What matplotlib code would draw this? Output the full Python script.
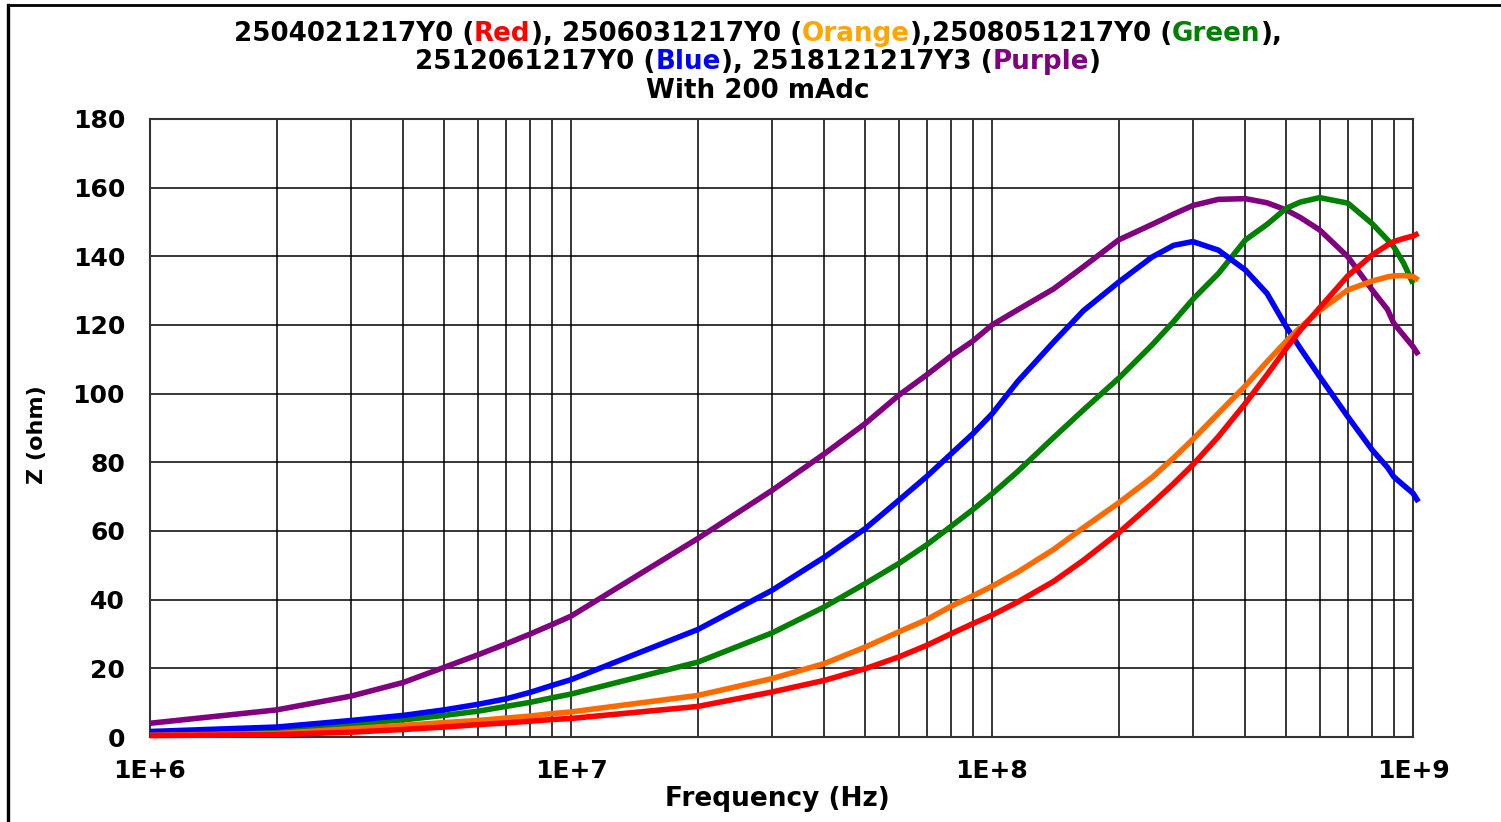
import numpy as np
import matplotlib
matplotlib.use('Agg')
import matplotlib.pyplot as plt
from matplotlib.lines import Line2D
from matplotlib.ticker import LogLocator, NullFormatter

# Impedance vs frequency, 200 mAdc bias
freq = [1e6, 2e6, 3e6, 4e6, 5e6, 6e6, 7e6, 8e6, 9e6,
        1e7, 2e7, 3e7, 4e7, 5e7, 6e7, 7e7, 8e7, 9e7,
        1e8, 1.15e8, 1.4e8, 1.65e8, 2e8, 2.4e8, 2.7e8, 3e8, 3.45e8, 4e8, 4.5e8,
        5e8, 5.4e8, 6e8, 7e8, 8e8, 8.7e8, 9e8, 9.5e8, 1e9, 1.03e9]

z_purple = [4.0, 7.9, 11.9, 15.9, 20.3, 23.9, 27.1, 30.0, 32.7,
            35.2, 57.8, 71.8, 82.5, 91.3, 99.5, 105.5, 111.0, 115.3,
            120.0, 124.4, 130.5, 137.0, 144.8, 149.3, 152.3, 154.8, 156.6, 156.8, 155.6,
            153.5, 151.3, 147.7, 139.9, 130.2, 124.5, 120.5, 117.0, 113.7, 111.3]

z_blue = [1.6, 2.9, 4.8, 6.3, 7.9, 9.5, 11.1, 13.0, 15.0,
          16.7, 31.3, 42.7, 52.4, 60.7, 68.9, 75.9, 82.5, 88.3,
          94.1, 103.5, 115.0, 124.2, 132.5, 139.8, 143.2, 144.3, 141.8, 136.0, 129.2,
          119.5, 113.2, 105.0, 93.3, 83.6, 78.5, 75.8, 73.3, 71.0, 68.5]

z_green = [1.2, 2.2, 3.7, 5.0, 6.3, 7.5, 8.9, 10.1, 11.4,
           12.5, 21.8, 30.3, 37.9, 44.7, 50.5, 56.0, 61.4, 66.2,
           70.8, 77.3, 87.2, 95.3, 104.5, 114.2, 121.0, 127.5, 135.0, 144.8, 149.3,
           154.0, 155.8, 157.1, 155.5, 149.5, 144.8, 142.8, 138.0, 132.1, np.nan]

z_orange = [0.5, 1.0, 2.4, 3.4, 4.2, 4.8, 5.5, 6.1, 6.8,
            7.3, 12.1, 17.0, 21.4, 26.2, 30.6, 34.2, 38.1, 41.1,
            43.9, 48.0, 54.6, 61.0, 68.2, 75.6, 81.3, 86.7, 94.3, 102.3, 109.3,
            115.3, 119.3, 124.2, 130.2, 132.8, 134.0, 134.3, 134.4, 134.1, 133.1]

z_red = [0.4, 0.7, 1.4, 2.2, 2.9, 3.6, 4.1, 4.6, 5.1,
         5.4, 8.9, 13.1, 16.5, 19.9, 23.3, 26.7, 30.1, 33.0,
         35.5, 39.3, 45.3, 51.5, 59.5, 68.0, 73.8, 79.3, 87.5, 97.2, 105.5,
         113.2, 118.5, 125.0, 134.3, 140.4, 143.3, 144.3, 145.2, 145.9, 146.7]

series = [
    (z_purple, '#800080'),
    (z_green, '#008000'),
    (z_blue, '#0000FF'),
    (z_orange, '#FF6A00'),
    (z_red, '#FF0000'),
]

x_ticks = [1e6, 1e7, 1e8, 1e9]
x_ticklabels = ['1E+6', '1E+7', '1E+8', '1E+9']
y_ticks = list(range(0, 181, 20))

title_lines = [
    [('2504021217Y0 (', 'black'), ('Red', '#FF0000'), ('), 2506031217Y0 (', 'black'),
     ('Orange', '#FFA500'), ('),2508051217Y0 (', 'black'), ('Green', '#008000'), ('),', 'black')],
    [('2512061217Y0 (', 'black'), ('Blue', '#0000FF'), ('), 2518121217Y3 (', 'black'),
     ('Purple', '#800080'), (')', 'black')],
    [('With 200 mAdc', 'black')],
]

plt.rcParams['font.family'] = ['DejaVu Sans']
plt.rcParams['font.weight'] = 'bold'
FS = 18
FS_TITLE = 18.8

W, H = 1501, 822
fig = plt.figure(figsize=(W / 100, H / 100), dpi=100)
ax = fig.add_axes([150 / W, 1 - 737 / H, 1263 / W, 618 / H])

for z, c in series:
    ax.plot(freq, z, color=c, linewidth=4, clip_on=False, zorder=3,
            solid_capstyle='butt', solid_joinstyle='round')

ax.set_xscale('log')
ax.set_xlim(1e6, 1e9)
ax.set_ylim(0, 180)
ax.set_xticks(x_ticks)
ax.set_xticklabels(x_ticklabels)
ax.xaxis.set_minor_locator(LogLocator(base=10, subs=range(2, 10)))
ax.xaxis.set_minor_formatter(NullFormatter())
ax.set_yticks(y_ticks)
ax.tick_params(which='both', length=0)
ax.tick_params(axis='x', pad=16, labelsize=FS)
ax.tick_params(axis='y', pad=18, labelsize=FS)
ax.grid(True, which='both', color='black', linewidth=1.1)
ax.set_axisbelow(True)
for sp in ax.spines.values():
    sp.set_linewidth(1.5)
    sp.set_color('#333333')

fig.text(37 / W, 1 - 435 / H, 'Z (ohm)', rotation=90, ha='center', va='center',
         fontsize=16)
fig.text(777 / W, 1 - 799 / H, 'Frequency (Hz)', ha='center', va='center',
         fontsize=19)

# multi-coloured title, one line at a time
renderer = fig.canvas.get_renderer()
for row, y_px in zip(title_lines, [34, 62, 91]):
    texts = [fig.text(0, 1 - y_px / H, s, color=c, fontsize=FS_TITLE, va='center')
             for s, c in row]
    widths = [t.get_window_extent(renderer).width for t in texts]
    x = 758 - sum(widths) / 2
    for t, w in zip(texts, widths):
        t.set_x(x / W)
        x += w

# outer frame (left and top edges)
fig.add_artist(Line2D([8 / W, 8 / W], [0, 1 - 5 / H], color='black', linewidth=2.4))
fig.add_artist(Line2D([8 / W, 1], [1 - 5 / H, 1 - 5 / H], color='black', linewidth=2.0))

fig.savefig('out.png', dpi=100)
